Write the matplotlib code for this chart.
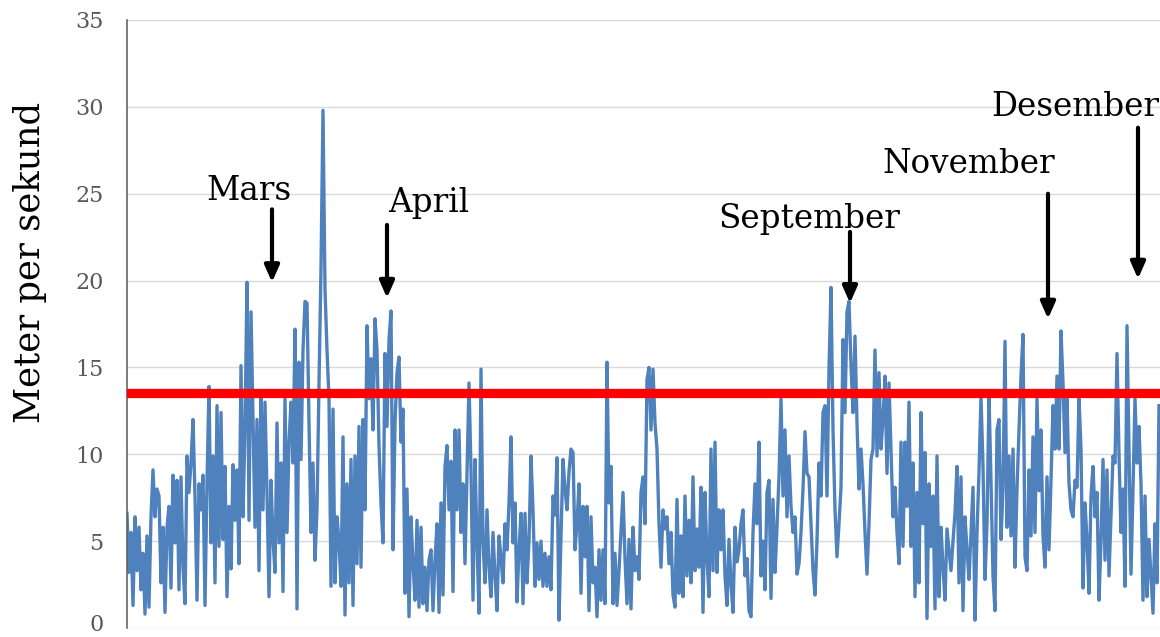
import matplotlib
matplotlib.use("Agg")
import matplotlib.pyplot as plt
import matplotlib.transforms as mtransforms
import numpy as np

# Vindstyrke gjennom året (m/s), jevnt fordelte målinger
vind_jan_feb = [
    6.6, 3.2, 5.5, 1.3, 6.4, 3.3, 5.8, 2.2, 4.3, 0.8, 5.3, 1.2, 6.4, 9.1, 6.4,
    8.0, 7.6, 2.6, 5.8, 0.9, 5.8, 7.0, 2.3, 8.8, 4.9, 8.5, 2.2, 8.7, 3.5, 1.4,
    9.9, 7.8, 9.5, 12.0, 7.6, 1.6, 8.3, 6.8, 8.8, 1.3, 8.3, 13.9, 4.9, 9.9, 2.6,
    12.8, 4.7, 12.4, 5.1, 9.3, 1.8, 7.0, 3.4, 9.4, 6.2, 9.1, 3.7, 15.1, 6.4, 11.6,
    19.9, 6.2, 18.2,
]
vind_mar = [
    12.0, 5.8, 12.0, 3.3, 13.5, 6.8, 13.0, 7.8, 1.8, 8.5, 5.1, 3.2, 11.8, 4.9, 9.5,
    2.1, 13.2, 5.5, 10.7, 13.0, 9.5, 17.2, 1.1, 15.3, 9.7, 16.0, 18.8, 18.7, 11.8, 5.5,
    9.5, 3.9, 6.8, 14.1, 20.7, 29.8, 19.5, 16.0, 13.2, 2.4, 12.6, 2.6, 6.4, 5.0, 2.4,
    11.0, 0.75, 8.3, 2.6, 9.7, 1.3, 9.9, 3.7, 11.6, 3.5, 12.0, 6.8, 17.4, 13.2, 15.5,
    11.4, 17.8, 16.0, 10.5, 7.2,
]
vind_apr_mai = [
    4.9, 15.8, 11.6, 16.6, 18.25, 4.5, 11.8, 14.7, 15.6, 10.7, 12.6, 2.0, 8.0, 0.65, 6.4,
    3.7, 1.6, 6.2, 1.2, 5.8, 1.4, 3.5, 1.0, 3.9, 4.5, 1.0, 3.9, 6.0, 0.9, 7.2,
    1.9, 9.3, 10.5, 6.8, 9.6, 2.1, 11.4, 6.8, 11.4, 5.5, 8.3, 3.7, 8.9, 14.1, 9.1,
    1.6, 9.7, 4.9, 0.85, 14.9, 4.9, 2.6, 6.8, 3.5, 1.8, 5.5, 3.0, 1.0, 5.3, 4.0,
    2.6, 6.0, 4.5, 7.2,
]
vind_jun_jul = [
    11.0, 4.9, 7.2, 1.5, 4.5, 6.6, 1.4, 6.6, 2.6, 5.0, 9.9, 6.8, 2.4, 4.9, 2.8,
    5.0, 2.4, 4.3, 2.4, 4.1, 2.2, 7.6, 6.5, 9.8, 0.45, 5.3, 9.7, 8.0, 6.8, 9.0,
    10.3, 10.1, 4.5, 6.0, 8.3, 2.0, 7.0, 4.1, 7.0, 1.0, 6.4, 2.6, 3.5, 0.65, 4.5,
    1.6, 4.5, 1.4, 15.3, 7.2, 9.3, 1.4, 4.3, 1.3, 3.3, 5.5, 7.8, 4.0, 1.4, 5.1,
    1.1, 5.8, 3.3, 4.1, 2.8,
]
vind_aug = [
    7.8, 8.7, 6.0, 14.3, 15.0, 11.4, 14.9, 11.8, 10.3, 6.0, 3.5, 6.8, 5.7, 6.4, 3.7,
    5.5, 1.9, 1.2, 7.4, 2.0, 5.3, 1.8, 7.6, 3.0, 6.2, 2.6, 8.7, 3.3, 5.7, 3.5,
    8.1, 0.9, 7.8, 4.0, 1.8, 10.3, 3.3, 10.7, 3.2, 6.8, 4.5, 6.8, 3.0, 1.3, 5.1,
    2.5, 0.9, 5.8, 3.8, 4.5, 6.0, 6.8, 3.0, 4.0, 1.0, 0.65, 5.5, 8.3, 6.0, 10.7,
    3.0, 5.0, 2.2, 7.8, 8.5,
]
vind_sep = [
    1.7, 7.4, 3.2, 5.8, 8.7, 13.2, 7.6, 11.4, 6.4, 9.9, 7.0, 5.5, 6.4, 3.1, 3.7,
    5.5, 8.0, 11.3, 8.9, 8.7, 6.0, 3.3, 1.9, 5.0, 9.5, 7.6, 12.4, 12.8, 7.6, 14.9,
    19.6, 11.4, 6.8, 4.1, 6.0, 8.1, 16.6, 12.4, 18.2, 18.8, 15.1, 12.4, 16.8, 11.8, 8.0,
    10.3, 8.3, 5.5, 3.1, 6.0, 9.7, 10.3, 16.0, 9.9, 14.7, 10.3, 12.0, 14.5, 8.9, 14.1,
    10.3, 6.4, 8.1, 5.5, 3.7,
]
vind_okt_nov = [
    10.7, 4.7, 10.7, 7.0, 13.0, 4.7, 9.5, 1.8, 7.8, 2.6, 12.4, 6.0, 10.1, 0.55, 8.3,
    4.7, 7.6, 1.1, 9.9, 1.8, 5.8, 3.5, 1.6, 5.7, 4.5, 3.3, 5.0, 6.6, 9.3, 2.6,
    8.7, 1.0, 6.4, 4.5, 2.8, 5.5, 8.1, 0.45, 5.5, 9.0, 13.3, 9.3, 2.8, 6.0, 13.3,
    8.5, 3.0, 1.0, 11.4, 12.0, 5.1, 8.0, 16.5, 5.8, 9.9, 5.3, 10.3, 3.5, 8.0, 11.4,
    14.5, 16.9, 4.1, 3.3, 9.1,
]
vind_des = [
    5.3, 11.0, 5.5, 13.2, 7.9, 11.4, 5.3, 3.5, 8.7, 4.5, 8.5, 12.8, 10.3, 14.5, 10.3,
    17.1, 14.1, 10.1, 13.2, 8.3, 6.8, 6.4, 8.5, 8.1, 13.2, 10.3, 2.3, 7.2, 5.1, 2.0,
    7.6, 9.3, 6.4, 7.8, 1.6, 5.0, 9.7, 3.9, 9.1, 3.0, 6.5, 9.9, 9.5, 15.8, 10.0,
    5.5, 8.0, 2.4, 17.4, 10.3, 3.1, 8.0, 13.2, 9.5, 11.6, 8.3, 1.6, 7.6, 1.8, 5.1,
    3.0, 0.85, 6.0, 2.6, 12.8,
]

terskel = 13.5            # grense for sterk vind
y_ticks = [0, 5, 10, 15, 20, 25, 30, 35]

# merkelapp, tekst (x, grunnlinje), pil x, pil start, pil spiss
merknader = [
    ("Mars",      61.0, 24.64, 72.5, 24.1, 19.9),
    ("April",    151.0, 23.95, 130.0, 23.2, 19.0),
    ("September", 341.0, 23.03, 361.5, 22.8, 18.7),
    ("November", 421.0, 26.19, 460.5, 25.0, 17.8),
    ("Desember", 474.0, 29.47, 505.5, 28.8, 20.1),
]

SERIF = "DejaVu Serif"

vind = np.array(vind_jan_feb + vind_mar + vind_apr_mai + vind_jun_jul
                + vind_aug + vind_sep + vind_okt_nov + vind_des)
x = np.arange(len(vind))

W, H = 1160, 637
fig = plt.figure(figsize=(W / 100, H / 100), dpi=100)
ax = fig.add_axes([127 / W, 9 / H, 1033 / W, 608 / H])

ax.plot(x, vind, color="#4F81BD", lw=2.4, solid_joinstyle="round", zorder=2)
ax.axhline(terskel, color="#FF0000", lw=6.7, zorder=3)

ax.set_xlim(0, len(vind) - 0.5)
ax.set_ylim(0, 35)
ax.set_xticks([])
ax.set_yticks(y_ticks)
ax.set_yticklabels([str(t) for t in y_ticks], family=SERIF)
ax.tick_params(axis="y", length=0, pad=17, labelsize=16, labelcolor="#595959")
for lbl in ax.get_yticklabels():
    lbl.set_verticalalignment("center_baseline")
# nederste etikett løftes litt så den ikke kuttes i kanten
bunn = ax.get_yticklabels()[0]
bunn.set_transform(bunn.get_transform()
                   + mtransforms.ScaledTranslation(0, 4 / 72, fig.dpi_scale_trans))
ax.grid(axis="y", color="#D9D9D9", lw=1.0)
ax.set_axisbelow(True)
for side in ["top", "right", "bottom"]:
    ax.spines[side].set_visible(False)
ax.spines["left"].set_color("#595959")
ax.spines["left"].set_linewidth(1.1)

fig.text(30 / W, 1 - 262 / H, "Meter per sekund", rotation=90,
         ha="center", va="center", fontsize=25.5, family=SERIF)

for navn, tx, ty, px, p_start, p_spiss in merknader:
    ax.text(tx, ty, navn, ha="center", va="baseline", fontsize=23.5,
            family=SERIF, clip_on=False, zorder=5)
    ax.annotate("", xy=(px, p_spiss), xytext=(px, p_start),
                arrowprops=dict(arrowstyle="-|>,head_length=0.5,head_width=0.22",
                                color="black", lw=3, shrinkA=0, shrinkB=0,
                                mutation_scale=20),
                zorder=5)

fig.savefig("out.png", dpi=100)
